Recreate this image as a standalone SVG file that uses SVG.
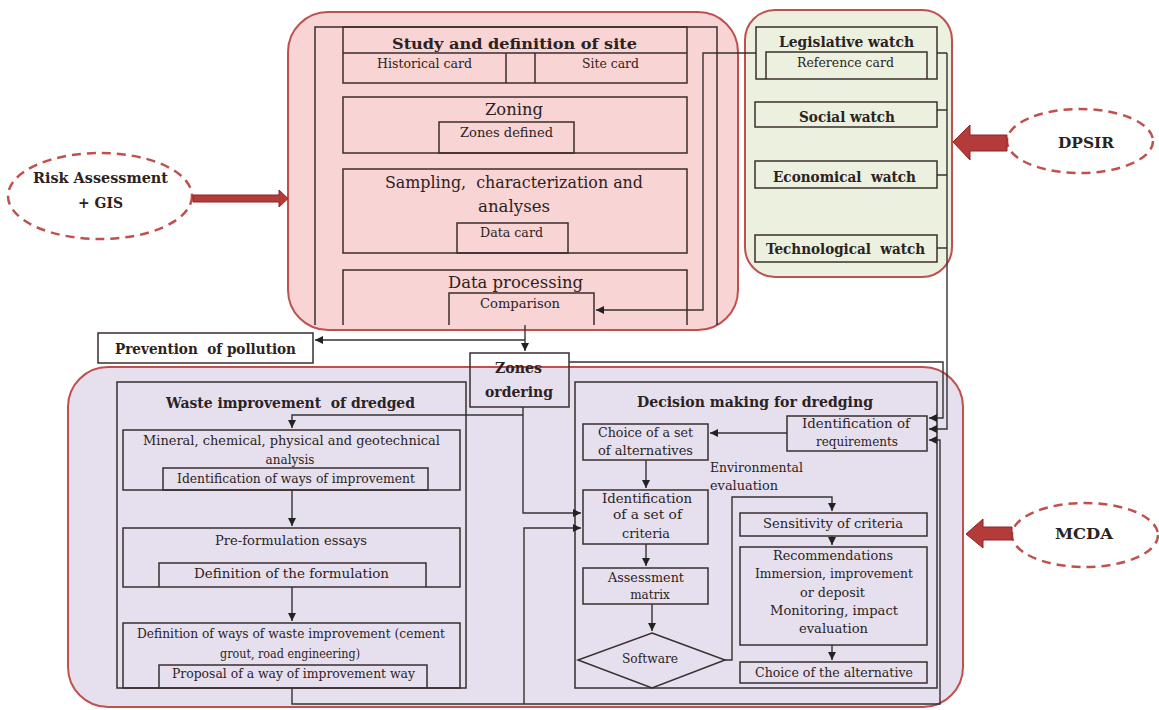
<svg xmlns="http://www.w3.org/2000/svg" width="1159" height="710" viewBox="0 0 1159 710">
<style>
.box{fill:none;stroke:#3a2e2e;stroke-width:1.5}
.conn{fill:none;stroke:#333;stroke-width:1.4}
.t{font-family:"DejaVu Serif","Liberation Serif",serif;fill:#2b2222;text-anchor:middle;font-size:12px}
.L{font-size:16.5px}
.B{font-weight:bold;font-size:15px}
.cont{stroke:#c0504d;stroke-width:2}
.ell{fill:#fff;stroke:#c0504d;stroke-width:2.5;stroke-dasharray:9 6}
.barrow{fill:#b53b3b;stroke:#8a2626;stroke-width:1}
</style>
<defs>
<marker id="ah" viewBox="0 0 10 10" refX="10" refY="5" markerWidth="8" markerHeight="8" orient="auto" markerUnits="userSpaceOnUse"><path d="M0,0 L10,5 L0,10 z" fill="#222"/></marker>
</defs>
<rect width="1159" height="710" fill="#fff"/>

<g id="containers">
<rect class="cont" x="288" y="12" width="450" height="318" rx="40" fill="#f9d4d4"/>
<rect class="cont" x="745" y="10" width="207" height="267" rx="30" fill="#ebf1de"/>
<rect class="cont" x="68" y="367" width="895" height="340" rx="40" fill="#e6e0ee"/>
</g>

<g id="site-frame">
<path class="box" d="M315,325 V27 H717 V325"/>
</g>
<g id="study">
<rect class="box" x="343" y="27" width="344" height="56"/>
<path class="box" d="M343,53 H687 M506,53 V83 M535,53 V83"/>
<text class="t B" x="514.5" y="49" textLength="245" lengthAdjust="spacingAndGlyphs" font-size="16">Study and definition of site</text>
<text class="t" x="424.5" y="68" textLength="95" lengthAdjust="spacingAndGlyphs">Historical card</text>
<text class="t" x="610.5" y="68" textLength="57" lengthAdjust="spacingAndGlyphs">Site card</text>
</g>
<g id="zoning">
<rect class="box" x="343" y="97" width="344" height="56"/>
<rect class="box" x="439" y="122" width="135" height="31"/>
<text class="t L" x="514" y="115" textLength="58" lengthAdjust="spacingAndGlyphs">Zoning</text>
<text class="t" x="506.5" y="137" textLength="93" lengthAdjust="spacingAndGlyphs">Zones defined</text>
</g>
<g id="sampling">
<rect class="box" x="343" y="169" width="344" height="84"/>
<rect class="box" x="457" y="223" width="111" height="30"/>
<text class="t L" x="514" y="188" textLength="258" lengthAdjust="spacingAndGlyphs" xml:space="preserve">Sampling,  characterization and</text>
<text class="t L" x="514" y="212" textLength="72" lengthAdjust="spacingAndGlyphs">analyses</text>
<text class="t" x="511.5" y="237" textLength="63" lengthAdjust="spacingAndGlyphs">Data card</text>
</g>
<g id="processing">
<path class="box" d="M343,325 V270 H687 V325"/>
<path class="box" d="M449,325 V293 H594 V325"/>
<text class="t L" x="515.5" y="288" textLength="135" lengthAdjust="spacingAndGlyphs">Data processing</text>
<text class="t" x="520" y="308" textLength="80" lengthAdjust="spacingAndGlyphs">Comparison</text>
</g>

<g id="legislative">
<rect class="box" x="756" y="27" width="181" height="52"/>
<path class="box" d="M766,79 V52 H927 V79"/>
<text class="t B" x="846.5" y="47" textLength="135" lengthAdjust="spacingAndGlyphs" font-size="14">Legislative watch</text>
<text class="t" x="845.5" y="67" textLength="97" lengthAdjust="spacingAndGlyphs" fill="#555">Reference card</text>
</g>
<g id="social">
<rect class="box" x="755" y="102" width="182" height="25"/>
<text class="t B" x="847" y="122" textLength="96" lengthAdjust="spacingAndGlyphs" font-size="14">Social watch</text>
</g>
<g id="economical">
<rect class="box" x="755" y="161" width="182" height="27"/>
<text class="t B" x="844.5" y="182" textLength="143" lengthAdjust="spacingAndGlyphs" font-size="14" xml:space="preserve">Economical  watch</text>
</g>
<g id="technological">
<rect class="box" x="755" y="235" width="182" height="27"/>
<text class="t B" x="845.5" y="254" textLength="159" lengthAdjust="spacingAndGlyphs" font-size="14" xml:space="preserve">Technological  watch</text>
</g>

<g id="risk">
<ellipse class="ell" cx="100" cy="196" rx="92" ry="43"/>
<text class="t B" x="100.5" y="183" textLength="135" lengthAdjust="spacingAndGlyphs">Risk Assessment</text>
<text class="t B" x="100.5" y="208" textLength="45" lengthAdjust="spacingAndGlyphs">+ GIS</text>
<polygon class="barrow" points="193,195 279,195 279,190 288,198.5 279,207 279,202 193,202"/>
</g>
<g id="dpsir">
<ellipse class="ell" cx="1080" cy="141" rx="73" ry="32"/>
<text class="t B" x="1086" y="148" textLength="56" lengthAdjust="spacingAndGlyphs">DPSIR</text>
<polygon class="barrow" points="1007,135 970,135 970,125 953,142 970,160 970,151 1007,151"/>
</g>
<g id="mcda">
<ellipse class="ell" cx="1085" cy="535" rx="73" ry="32"/>
<text class="t B" x="1084" y="539" textLength="58" lengthAdjust="spacingAndGlyphs">MCDA</text>
<polygon class="barrow" points="1012,527 983,527 983,519 966,534 983,548 983,540 1012,540"/>
</g>

<g id="prevention">
<rect class="box" x="98" y="333" width="215" height="30" fill="#fff"/>
<text class="t B" x="205.5" y="354" textLength="181" lengthAdjust="spacingAndGlyphs" xml:space="preserve">Prevention  of pollution</text>
</g>
<g id="zones-ordering">
<rect class="box" x="470" y="353" width="99" height="54"/>
<text class="t B" x="518.5" y="373" textLength="47" lengthAdjust="spacingAndGlyphs" fill="#6e3232">Zones</text>
<text class="t B" x="519" y="397" textLength="68" lengthAdjust="spacingAndGlyphs">ordering</text>
</g>

<g id="waste">
<rect class="box" x="117" y="382" width="349" height="306"/>
<text class="t B" x="290.5" y="408" textLength="249" lengthAdjust="spacingAndGlyphs" xml:space="preserve">Waste improvement  of dredged</text>
</g>
<g id="mineral">
<rect class="box" x="123" y="430" width="337" height="60"/>
<rect class="box" x="163" y="468" width="265" height="22"/>
<text class="t" x="291.5" y="445" textLength="297" lengthAdjust="spacingAndGlyphs">Mineral, chemical, physical and geotechnical</text>
<text class="t" x="290" y="464" font-size="11">analysis</text>
<text class="t" x="296" y="483" textLength="238" lengthAdjust="spacingAndGlyphs">Identification of ways of improvement</text>
</g>
<g id="preformulation">
<rect class="box" x="123" y="528" width="337" height="59"/>
<path class="box" d="M159,587 V563 H426 V587"/>
<text class="t" x="291" y="545" textLength="152" lengthAdjust="spacingAndGlyphs">Pre-formulation essays</text>
<text class="t" x="291.5" y="578" textLength="195" lengthAdjust="spacingAndGlyphs">Definition of the formulation</text>
</g>
<g id="definition">
<rect class="box" x="123" y="623" width="337" height="65"/>
<path class="box" d="M159,688 V665 H427 V688"/>
<text class="t" x="291" y="638" textLength="308" lengthAdjust="spacingAndGlyphs">Definition of ways of waste improvement (cement</text>
<text class="t" x="290" y="658" textLength="140" lengthAdjust="spacingAndGlyphs">grout, road engineering)</text>
<text class="t" x="293.5" y="678" textLength="243" lengthAdjust="spacingAndGlyphs">Proposal of a way of improvement way</text>
</g>

<g id="decision">
<rect class="box" x="575" y="382" width="362" height="306"/>
<text class="t B" x="755" y="407" textLength="236" lengthAdjust="spacingAndGlyphs">Decision making for dredging</text>
</g>
<g id="requirements">
<rect class="box" x="787" y="416" width="140" height="35"/>
<text class="t" x="856" y="428" textLength="108" lengthAdjust="spacingAndGlyphs">Identification of</text>
<text class="t" x="857" y="446" textLength="82" lengthAdjust="spacingAndGlyphs">requirements</text>
</g>
<g id="alternatives">
<rect class="box" x="583" y="424" width="125" height="36"/>
<text class="t" x="645.5" y="437" textLength="95" lengthAdjust="spacingAndGlyphs">Choice of a set</text>
<text class="t" x="645.5" y="455" textLength="95" lengthAdjust="spacingAndGlyphs">of alternatives</text>
</g>
<g id="env-label">
<text class="t" x="710" y="472" textLength="93" lengthAdjust="spacingAndGlyphs" style="text-anchor:start">Environmental</text>
<text class="t" x="710" y="490" textLength="68" lengthAdjust="spacingAndGlyphs" style="text-anchor:start">evaluation</text>
</g>
<g id="criteria">
<rect class="box" x="583" y="490" width="125" height="54"/>
<text class="t" x="647" y="503" textLength="90" lengthAdjust="spacingAndGlyphs">Identification</text>
<text class="t" x="647.5" y="519" textLength="69" lengthAdjust="spacingAndGlyphs">of a set of</text>
<text class="t" x="646" y="538" textLength="48" lengthAdjust="spacingAndGlyphs">criteria</text>
</g>
<g id="assessment">
<rect class="box" x="583" y="568" width="125" height="36"/>
<text class="t" x="646" y="582" textLength="76" lengthAdjust="spacingAndGlyphs">Assessment</text>
<text class="t" x="650" y="599">matrix</text>
</g>
<g id="software">
<polygon class="box" points="652,633 725,660 652,688 578,660"/>
<text class="t" x="650" y="663" textLength="56" lengthAdjust="spacingAndGlyphs">Software</text>
</g>
<g id="sensitivity">
<rect class="box" x="740" y="513" width="187" height="23"/>
<text class="t" x="833" y="528" textLength="140" lengthAdjust="spacingAndGlyphs">Sensitivity of criteria</text>
</g>
<g id="recommendations">
<rect class="box" x="740" y="547" width="187" height="98"/>
<text class="t" x="833" y="560" textLength="120" lengthAdjust="spacingAndGlyphs">Recommendations</text>
<text class="t" x="834" y="578" textLength="158" lengthAdjust="spacingAndGlyphs">Immersion, improvement</text>
<text class="t" x="832.5" y="597" textLength="65" lengthAdjust="spacingAndGlyphs">or deposit</text>
<text class="t" x="834" y="615" textLength="128" lengthAdjust="spacingAndGlyphs">Monitoring, impact</text>
<text class="t" x="833.5" y="633" textLength="69" lengthAdjust="spacingAndGlyphs">evaluation</text>
</g>
<g id="choice-alternative">
<rect class="box" x="740" y="662" width="187" height="21"/>
<text class="t" x="834" y="677" textLength="158" lengthAdjust="spacingAndGlyphs">Choice of the alternative</text>
</g>

<g id="connectors">
<path class="conn" d="M756,53 H703 V310 H596" marker-end="url(#ah)"/>
<path class="conn" d="M525,325 V351" marker-end="url(#ah)"/>
<path class="conn" d="M525,340 H315" marker-end="url(#ah)"/>
<path class="conn" d="M523,407 V513 H581" marker-end="url(#ah)"/>
<path class="conn" d="M523,415 H292 V428" marker-end="url(#ah)"/>
<path class="conn" d="M569,362 H943 V418 H929" marker-end="url(#ah)"/>
<path class="conn" d="M937,53 H947 M937,110 H947 M937,175 H947 M937,248 H947"/>
<path class="conn" d="M947,53 V429 H929" marker-end="url(#ah)"/>
<path class="conn" d="M292,688 V704 H940 V440 H929" marker-end="url(#ah)"/>
<path class="conn" d="M524,704 V528 H581" marker-end="url(#ah)"/>
<path class="conn" d="M292,490 V526" marker-end="url(#ah)"/>
<path class="conn" d="M292,587 V621" marker-end="url(#ah)"/>
<path class="conn" d="M787,433 H710" marker-end="url(#ah)"/>
<path class="conn" d="M646,460 V488" marker-end="url(#ah)"/>
<path class="conn" d="M646,544 V566" marker-end="url(#ah)"/>
<path class="conn" d="M652,604 V631" marker-end="url(#ah)"/>
<path class="conn" d="M725,660 H732 V497 H832 V511" marker-end="url(#ah)"/>
<path class="conn" d="M832,536 V545" marker-end="url(#ah)"/>
<path class="conn" d="M832,645 V660" marker-end="url(#ah)"/>
</g>
</svg>
